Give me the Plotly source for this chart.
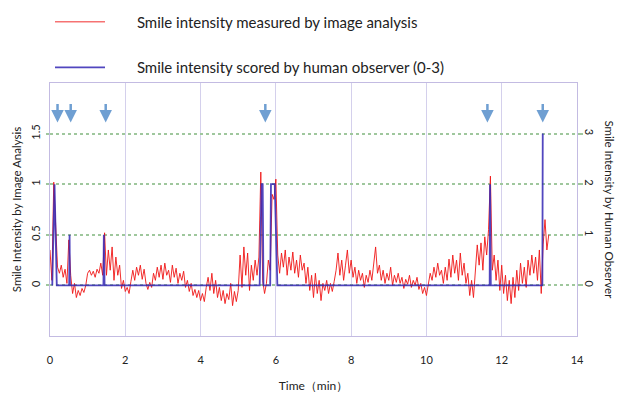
import plotly.graph_objects as go

# ---------------- data ----------------
red_step = 0.05  # minutes between image-analysis samples
red_values = [
    # 0.00 - 0.95
    0.35, 0.05, 1.02, 0.55, 0.18, 0.12, 0.20, 0.08, 0.16, 0.02,
    0.45, 0.10, -0.08, 0.02, -0.12, -0.05, -0.10, -0.03, -0.07, 0.00,
    # 1.00 - 1.95
    0.12, 0.15, 0.10, 0.14, 0.08, 0.16, 0.12, 0.22, 0.10, 0.52,
    0.10, 0.35, 0.15, 0.38, 0.05, 0.28, 0.10, 0.20, -0.03, 0.05,
    # 2.00 - 2.95
    -0.06, -0.02, -0.08, 0.04, 0.15, 0.05, 0.18, 0.10, 0.20, 0.06,
    0.16, 0.02, -0.04, 0.03, -0.02, 0.12, 0.05, 0.18, 0.08, 0.20,
    # 3.00 - 3.95
    0.06, 0.22, 0.10, 0.15, 0.03, 0.20, 0.08, 0.17, 0.02, 0.12,
    0.05, 0.14, -0.02, 0.05, -0.06, 0.02, -0.10, -0.04, -0.12, -0.05,
    # 4.00 - 4.95
    -0.15, -0.08, -0.16, -0.02, 0.08, -0.05, 0.12, -0.08, 0.05, -0.12,
    -0.02, -0.15, -0.05, -0.18, -0.08, -0.14, 0.02, -0.20, -0.06, -0.16,
    # 5.00 - 5.95
    -0.05, 0.30, -0.02, 0.38, 0.10, 0.32, -0.05, 0.20, 0.05, 0.25,
    0.10, 0.28, 1.12, 0.05, -0.08, 0.02, 0.25, 0.15, 0.90, 0.85,
    # 6.00 - 6.95
    1.05, 0.30, 0.12, 0.32, 0.18, 0.35, 0.10, 0.28, 0.15, 0.33,
    0.12, 0.25, 0.08, 0.30, 0.15, 0.22, 0.02, 0.18, -0.05, 0.10,
    # 7.00 - 7.95
    -0.12, 0.12, -0.08, 0.05, -0.15, 0.02, -0.05, 0.05, -0.08, 0.02,
    -0.06, 0.04, 0.15, 0.32, 0.10, 0.25, 0.05, 0.20, 0.35, 0.12,
    # 8.00 - 8.95
    0.25, 0.08, 0.18, 0.02, 0.15, 0.05, 0.12, -0.02, 0.10, 0.03,
    0.15, 0.05, 0.22, 0.38, 0.12, 0.20, 0.05, 0.15, 0.02, 0.12,
    # 9.00 - 9.95
    0.05, 0.18, 0.00, 0.10, 0.03, 0.12, 0.02, 0.08, -0.03, 0.06,
    0.01, 0.10, -0.02, 0.05, 0.00, 0.08, -0.04, 0.02, -0.08, -0.02,
    # 10.00 - 10.95
    -0.10, 0.00, 0.12, 0.05, 0.18, 0.08, 0.22, 0.10, 0.15, 0.02,
    0.18, 0.05, 0.26, 0.08, 0.30, 0.12, 0.25, 0.05, 0.32, 0.10,
    # 11.00 - 11.95
    0.22, 0.02, 0.12, -0.10, 0.05, -0.12, 0.15, 0.40, 0.20, 0.42,
    0.15, 0.48, 0.30, 0.55, 1.08, 0.15, 0.30, 0.05, 0.25, -0.05,
    # 12.00 - 12.95
    0.20, -0.08, 0.10, -0.15, 0.05, -0.18, 0.08, -0.12, 0.15, -0.05,
    0.22, 0.02, 0.18, -0.02, 0.25, 0.10, 0.30, 0.12, 0.28, 0.05,
    # 13.00 - 13.25
    0.35, -0.08, 0.40, 0.65, 0.35, 0.50,
]
red_time = [round(i * red_step, 2) for i in range(len(red_values))]

blue_time = [0.06, 0.12, 0.18, 0.51, 0.52, 0.53, 1.42, 1.43, 1.45,
             5.57, 5.62, 5.65, 5.67, 5.85, 5.87, 5.97, 6.04,
             11.68, 11.69, 11.71, 13.08, 13.09]
blue_values = [0, 2, 0, 0, 1, 0, 0, 1, 0,
               0, 2, 2, 0, 0, 2, 2, 0,
               0, 2, 0, 0, 3]

arrow_times = [0.20, 0.55, 1.48, 5.72, 11.62, 13.09]

x_ticks = [0, 2, 4, 6, 8, 10, 12, 14]
left_ticks = [0, 0.5, 1, 1.5]
right_ticks = [0, 1, 2, 3]

red_name = "Smile intensity measured by image analysis"
blue_name = "Smile intensity scored by human observer (0-3)"
x_title = "Time（min）"
left_title = "Smile Intensity by Image Analysis"
right_title = "Smile Intensity by Human Observer"

# ---------------- style ----------------
FONT = "Lato, 'Open Sans', sans-serif"
GREEN = "#9fc79d"
LAVENDER = "#d4d0ec"
BORDER = "#c3bbe2"
PAD = "\u00a0" * 7  # gap between legend swatch and its label

fig = go.Figure()
fig.add_trace(go.Scatter(
    x=red_time, y=red_values, mode="lines", name=PAD + red_name,
    line=dict(color="rgba(240,22,22,0.9)", width=1),
    legendrank=1, legendgroup="a"))
fig.add_trace(go.Scatter(
    x=blue_time, y=blue_values, mode="lines", name=PAD + blue_name, yaxis="y2",
    line=dict(color="rgba(50,38,180,0.85)", width=1.8),
    legendrank=2, legendgroup="b"))

annotations = []
for t in arrow_times:
    annotations.append(dict(
        x=t, y=1.61, xref="x", yref="y", text="", showarrow=True,
        ax=0, ay=-20, arrowhead=2, arrowsize=1, arrowwidth=2.5,
        arrowcolor="#6f9fd2"))
annotations.append(dict(
    xref="paper", yref="paper", x=1, y=0.5, xshift=32, xanchor="center",
    yanchor="middle", text=right_title, showarrow=False, textangle=90,
    font=dict(size=11.5, color="#222")))

fig.update_layout(
    template="none",
    width=623, height=396,
    margin=dict(l=50, r=46, t=83, b=60, pad=0, autoexpand=False),
    paper_bgcolor="white", plot_bgcolor="white",
    font=dict(family=FONT, color="#222"),
    showlegend=True,
    legend=dict(x=0, y=1.306, xanchor="left", yanchor="top",
                font=dict(size=15, color="#222"), traceorder="grouped",
                tracegroupgap=23, itemwidth=50, bgcolor="rgba(0,0,0,0)"),
    xaxis=dict(range=[0, 14], tickvals=x_ticks, showgrid=True,
               gridcolor=LAVENDER, gridwidth=1, zeroline=False,
               showline=True, linecolor=BORDER, linewidth=1, mirror=True,
               ticks="", ticklabelstandoff=14,
               tickfont=dict(size=11, color="#222"),
               title=dict(text=x_title, font=dict(size=12), standoff=16)),
    yaxis=dict(range=[-0.5, 2], tickvals=left_ticks,
               ticktext=["0", "0.5", "1", "1.5"], tickangle=-90,
               showgrid=True, gridcolor=GREEN, griddash="dot", gridwidth=1.5,
               zeroline=False, showline=True, linecolor=BORDER, linewidth=1,
               mirror=True, ticks="outside", ticklen=3, tickcolor=GREEN,
               tickwidth=1.5, ticklabelstandoff=2,
               tickfont=dict(size=11, color="#222"),
               title=dict(text=left_title, font=dict(size=11.5), standoff=4)),
    yaxis2=dict(range=[-1, 4], tickvals=right_ticks, overlaying="y",
                side="right", tickangle=90, showgrid=False, zeroline=False,
                showline=False, ticks="outside", ticklen=5, tickcolor=GREEN,
                tickwidth=1.5, ticklabelstandoff=-2,
                tickfont=dict(size=11, color="#222")),
    annotations=annotations,
)

fig.write_html("out.html")
